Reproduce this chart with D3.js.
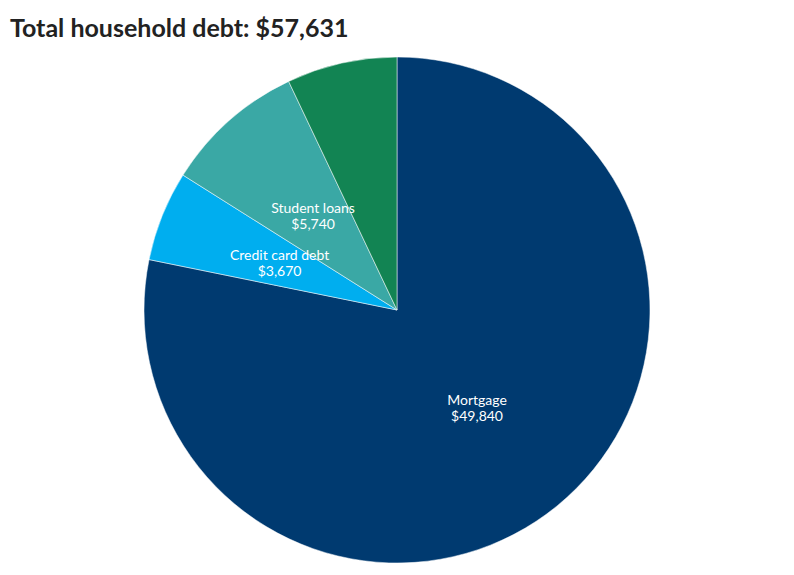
<!DOCTYPE html>
<html><head><meta charset="utf-8">
<script src="https://cdn.jsdelivr.net/npm/d3@7"></script>
<style>body{margin:0;background:#fff}</style></head>
<body><svg id="c" width="794" height="575"></svg>
<script>
const categories = ["Mortgage","Credit card debt","Student loans","Other"];
const values = [49840, 3670, 5740, 4490];
const labels = ["$49,840","$3,670","$5,740",""];
const colors = ["#003a70","#00aeef","#3aa8a5","#128453"];
const title = "Total household debt: $57,631";

const svg = d3.select("#c");
svg.append("text").attr("x",10).attr("y",37).text(title)
  .attr("font-family","Lato, 'Open Sans', sans-serif").attr("font-weight","bold")
  .attr("font-size",25).attr("fill","#222");
const R = 253;
const g = svg.append("g").attr("transform","translate(397,310)");
const data = categories.map((c,i)=>({c,v:values[i],l:labels[i],col:colors[i]}));
const pie = d3.pie().value(d=>d.v).sort(null);
const arc = d3.arc().innerRadius(0).outerRadius(R);
const arcs = pie(data);
g.selectAll("path").data(arcs).join("path").attr("d",arc).attr("fill",d=>d.data.col)
  .attr("stroke","#fff").attr("stroke-width",0.5);
const t = g.selectAll("text.l").data(arcs.filter(d=>d.data.l)).join("text")
  .attr("transform",d=>`translate(${arc.centroid(d)})`).attr("text-anchor","middle")
  .attr("font-family","Lato, 'Open Sans', sans-serif").attr("font-size",14).attr("fill","#fff");
t.append("tspan").attr("x",0).attr("dy","-0.2em").text(d=>d.data.c);
t.append("tspan").attr("x",0).attr("dy","1.15em").text(d=>d.data.l);
</script></body></html>
